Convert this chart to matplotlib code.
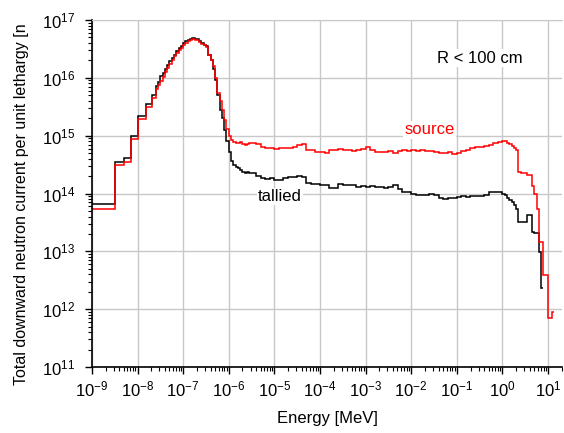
import numpy as np
import matplotlib
matplotlib.use('Agg')
import matplotlib.pyplot as plt

plt.rcParams['font.family'] = ['Liberation Sans', 'DejaVu Sans']
plt.rcParams['mathtext.fontset'] = 'custom'
plt.rcParams['mathtext.rm'] = 'Liberation Sans'
plt.rcParams['mathtext.default'] = 'regular'

# energy bin edges, log10(E / MeV)
low_edges = [-9.0, -8.5, -8.3, -8.15, -8.0, -7.82, -7.69, -7.6]
fine_edges = np.linspace(-7.6, -5.5, 43)[1:]
mid_edges = np.linspace(-5.5, 0.0, 56)[1:]
tail_edges = list(np.linspace(0.0, 1.0, 21)[1:]) + [1.08, 1.13]
log_edges = np.concatenate([low_edges, fine_edges, mid_edges, tail_edges])

# log10 of current per unit lethargy, source term
source_log = [
    13.74, 14.50, 14.55, 14.95, 15.28, 15.49, 15.66,
    15.80, 15.87, 15.95, 16.02, 16.10, 16.17, 16.24, 16.31, 16.37, 16.43,
    16.48, 16.52, 16.56, 16.60, 16.63, 16.65, 16.67, 16.66, 16.65, 16.62,
    16.59, 16.56, 16.53, 16.40, 16.30, 16.20, 16.00, 15.73, 15.60, 15.45,
    15.27, 15.12, 15.00, 14.93, 14.89, 14.87, 14.88, 14.89, 14.85, 14.84,
    14.86, 14.88,
    14.88, 14.85, 14.80, 14.78, 14.78, 14.77, 14.79, 14.78, 14.78, 14.80,
    14.84, 14.86, 14.76, 14.75, 14.72, 14.72, 14.70, 14.76, 14.75, 14.77,
    14.75, 14.76, 14.74, 14.76, 14.77, 14.81, 14.76, 14.72, 14.72, 14.71,
    14.73, 14.70, 14.73, 14.75, 14.74, 14.76, 14.74, 14.75, 14.73, 14.74,
    14.72, 14.70, 14.70, 14.71, 14.69, 14.70, 14.74, 14.76, 14.78, 14.80,
    14.80, 14.83, 14.84, 14.87, 14.89,
    14.91, 14.90, 14.88, 14.86, 14.82, 14.78, 14.76, 14.38, 14.36, 14.35,
    14.35, 14.32, 14.32, 14.13, 14.00, 13.74, 13.16, 13.16, 12.59, 12.59,
    11.85, 11.95,
]

# log10 of current per unit lethargy, tallied
tallied_log = [
    13.81, 14.55, 14.62, 14.99, 15.34, 15.54, 15.70,
    15.86, 15.93, 16.03, 16.08, 16.15, 16.22, 16.29, 16.35, 16.40, 16.46,
    16.51, 16.55, 16.60, 16.64, 16.66, 16.68, 16.69, 16.68, 16.67, 16.64,
    16.61, 16.57, 16.55, 16.40, 16.30, 16.15, 15.96, 15.70, 15.45, 15.30,
    15.10, 14.90, 14.72, 14.56, 14.50, 14.46, 14.44, 14.40, 14.38, 14.36,
    14.37, 14.35,
    14.36, 14.30, 14.26, 14.25, 14.26, 14.24, 14.23, 14.26, 14.29, 14.29,
    14.30, 14.28, 14.19, 14.17, 14.17, 14.15, 14.15, 14.10, 14.09, 14.17,
    14.15, 14.15, 14.14, 14.11, 14.13, 14.12, 14.13, 14.11, 14.11, 14.10,
    14.12, 14.14, 14.08, 14.03, 14.02, 13.99, 13.97, 13.98, 13.97, 13.99,
    13.97, 13.92, 13.90, 13.93, 13.92, 13.94, 13.95, 13.94, 13.96, 13.95,
    13.96, 13.98, 14.02, 14.03, 14.02,
    14.00, 13.98, 13.93, 13.89, 13.85, 13.80, 13.74, 13.51, 13.51, 13.51,
    13.51, 13.63, 13.63, 13.33, 13.32, 13.32, 12.99, 12.37,
]

edges = 10.0 ** log_edges
source = 10.0 ** np.array(source_log)
tallied = 10.0 ** np.array(tallied_log)

fig = plt.figure(figsize=(5.64, 4.33), dpi=100)
ax = fig.add_axes([0.163, 0.1524, 0.8335, 0.8014])

ax.stairs(tallied, edges[:len(tallied) + 1], color='black', lw=1.1, baseline=None)
ax.stairs(source, edges[:len(source) + 1], color='#ff0000', lw=1.1, baseline=None)

ax.set_xscale('log')
ax.set_yscale('log')
ax.set_xlim(1e-9, 10 ** 1.307)
ax.set_ylim(1e11, 1e17)
ax.set_xticks(10.0 ** np.arange(-9, 2))
ax.set_yticks(10.0 ** np.arange(11, 18))
ax.xaxis.set_minor_locator(matplotlib.ticker.LogLocator(base=10, subs=np.arange(2, 10), numticks=20))
ax.yaxis.set_minor_locator(matplotlib.ticker.LogLocator(base=10, subs=np.arange(2, 10), numticks=20))
ax.xaxis.set_minor_formatter(matplotlib.ticker.NullFormatter())
ax.yaxis.set_minor_formatter(matplotlib.ticker.NullFormatter())

ax.grid(True, which='major', color='#c8c8c8', lw=1.0)
ax.set_axisbelow(True)
ax.spines['right'].set_visible(False)
ax.spines['top'].set_color('#c8c8c8')
ax.spines['left'].set_linewidth(1.2)
ax.spines['bottom'].set_linewidth(1.2)
ax.tick_params(which='major', direction='out', length=5, width=1.0, labelsize=12)
ax.tick_params(axis='y', which='major', pad=7)
ax.tick_params(axis='x', which='major', pad=4)
ax.tick_params(which='minor', direction='out', length=3, width=0.8)

ax.set_xlabel('Energy [MeV]', fontsize=12, labelpad=8)
fig.text(0.039, 0.111, 'Total downward neutron current per unit lethargy [n',
         rotation=90, ha='center', va='bottom', fontsize=11.5)

box = dict(facecolor='white', edgecolor='none', pad=1)
ax.text(10 ** -0.49, 10 ** 16.34, 'R < 100 cm', ha='center', va='center', fontsize=12, bbox=box)
ax.text(10 ** -1.59, 10 ** 15.10, 'source', color='#ff0000', ha='center', va='center',
        fontsize=12, bbox=box)
ax.text(10 ** -4.88, 10 ** 13.95, 'tallied', ha='center', va='center', fontsize=12, bbox=box)

fig.savefig('out.png', dpi=100)
